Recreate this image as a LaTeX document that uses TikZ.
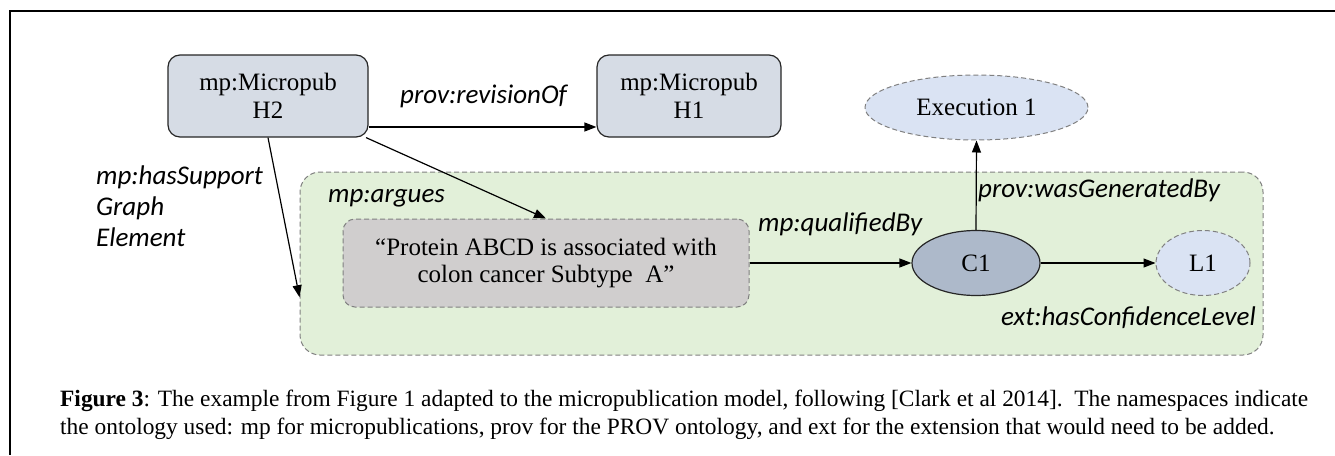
\documentclass[tikz,border=0pt]{standalone}
\usepackage{fontspec}
\setmainfont{Liberation Serif}
\newfontfamily\labfont{Carlito}
\usetikzlibrary{arrows.meta,shapes.geometric}
\definecolor{boxblue}{HTML}{D6DCE5}
\definecolor{lightblue}{HTML}{DAE3F3}
\definecolor{cone}{HTML}{ADB9CA}
\definecolor{claimgray}{HTML}{D0CECE}
\definecolor{groupgreen}{HTML}{E2F0D9}
\definecolor{dashgray}{HTML}{808080}
\definecolor{edgecol}{HTML}{262626}
\begin{document}
\begin{tikzpicture}[x=1pt,y=-1pt,
  nodefont/.style={font=\fontsize{25}{27.5}\selectfont},
  labelfont/.style={font=\labfont\itshape\fontsize{27}{31}\selectfont, text=black, inner sep=0pt},
  mpbox/.style={draw=edgecol, line width=1.2pt, fill=boxblue, rounded corners=12pt, minimum height=82pt, align=center, nodefont, inner sep=0pt},
  dashedge/.style={draw=dashgray, line width=1pt, dash pattern=on 5pt off 3pt},
  lightell/.style={ellipse, dashedge, fill=lightblue, nodefont, inner sep=0pt},
  arr/.style={draw=black, line width=1.2pt, -{Triangle[length=12pt,width=9pt]}},
  captionfont/.style={font=\fontsize{23.4}{28}\selectfont, inner sep=0pt, anchor=base west},
]
\useasboundingbox (0,0) rectangle (1335,455);
\draw[line width=1.5pt] (1335,11) -- (10,11) -- (10,455);

% group
\node[dashedge, fill=groupgreen, rounded corners=20pt, minimum width=963pt, minimum height=183pt, inner sep=0pt] (group) at (781.5,263.5) {};

% nodes
\node[mpbox, minimum width=200pt] (H2) at (268,96) {mp:Micropub\\H2};
\node[mpbox, minimum width=184pt] (H1) at (689,96) {mp:Micropub\\H1};
\node[lightell, minimum width=223pt, minimum height=65pt] (exe) at (976.5,107.5) {Execution 1};
\node[dashedge, fill=claimgray, rounded corners=12pt, minimum width=406pt, minimum height=88pt, align=center, nodefont, inner sep=0pt] (claim) at (546,263) {“Protein ABCD is associated with\\colon cancer Subtype\ \ A”};
\node[ellipse, draw=edgecol, line width=1.2pt, fill=cone, minimum width=128pt, minimum height=65pt, nodefont, inner sep=0pt] (C1) at (976,263) {C1};
\node[lightell, minimum width=94pt, minimum height=65pt] (L1) at (1203,263) {L1};

% connectors
\draw[arr] ([yshift=-31pt]H2.east) -- ([yshift=-31pt]H1.west);
\draw[arr] (H2.-23) -- (claim.north);
\draw[arr] (H2.south) -- (group.184.3);
\draw[arr] (claim.east) -- (C1.west);
\draw[arr] (C1.north) -- (exe.south);
\draw[arr] (C1.east) -- (L1.west);

% labels
\node[labelfont, anchor=west] (lrev) at (400,96) {prov:revisionOf};
\node[labelfont, anchor=west, align=left] (lsup) at (96,206) {mp:hasSupport\\Graph\\Element};
\node[labelfont, anchor=west] (larg) at (328,198) {mp:argues};
\node[labelfont, anchor=west] (lqual) at (758,224) {mp:qualifiedBy};
\node[labelfont, anchor=west] (lgen) at (978,190) {prov:wasGeneratedBy};
\node[labelfont, anchor=east] (lconf) at (1256,318) {ext:hasConfidenceLevel};

% caption
\node[captionfont] (cap1) at (60,406) {\makebox[1248pt][s]{\textbf{Figure 3}: The example from Figure 1 adapted to the micropublication model, following [Clark et al 2014].\ \ The namespaces indicate}};
\node[captionfont] (cap2) at (60,434) {the ontology used: mp for micropublications, prov for the PROV ontology, and ext for the extension that would need to be added.};
\end{tikzpicture}
\end{document}
